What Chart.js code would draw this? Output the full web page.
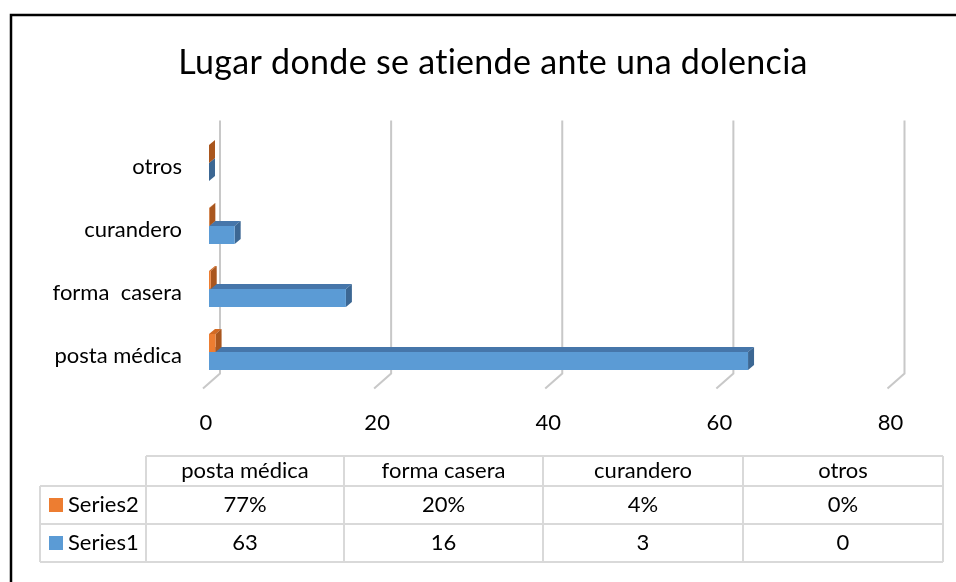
<!DOCTYPE html>
<html>
<head>
<meta charset="utf-8">
<script src="https://cdn.jsdelivr.net/npm/chart.js@4"></script>
<style>
  html, body { margin: 0; padding: 0; background: #ffffff; }
  #wrap { width: 956px; height: 582px; position: relative; }
</style>
</head>
<body>
<div id="wrap"><canvas id="c" width="956" height="582"></canvas></div>
<script>
// ---- data ----
const titleText = 'Lugar donde se atiende ante una dolencia';
const categories = ['posta médica', 'forma casera', 'curandero', 'otros'];
const yTickLabels = ['posta médica', 'forma  casera', 'curandero', 'otros'];
const series1 = [63, 16, 3, 0];
const series2 = [0.77, 0.20, 0.04, 0];
const series2Labels = ['77%', '20%', '4%', '0%'];
const series1Labels = ['63', '16', '3', '0'];
const seriesNames = ['Series2', 'Series1'];
const xTicks = [0, 20, 40, 60, 80];

// ---- styles ----
const FONT = 'Lato, "Noto Sans", sans-serif';
const C = {
  blue: '#5b9bd5', blueTop: '#4676aa', blueSide: '#3c6793',
  orange: '#ed7d31', orangeTop: '#d26a24', orangeSide: '#a9561e',
  grid: '#c8c8c8', table: '#d9d9d9', text: '#000000'
};

const frame = {
  id: 'frame',
  beforeDraw(chart) {
    const ctx = chart.ctx;
    ctx.save();
    ctx.fillStyle = '#ffffff';
    ctx.fillRect(0, 0, chart.width, chart.height);
    ctx.strokeStyle = '#000000';
    ctx.lineWidth = 2.5;
    ctx.strokeRect(11, 15, 2000, 2000);
    ctx.fillStyle = C.text;
    ctx.font = '34px ' + FONT;
    if ('letterSpacing' in ctx) ctx.letterSpacing = '0.3px';
    ctx.textAlign = 'center';
    ctx.textBaseline = 'middle';
    ctx.fillText(titleText, 493, 63);
    ctx.restore();
  }
};

const depth = {
  id: 'depth',
  beforeDatasetsDraw(chart) {
    const ctx = chart.ctx;
    const xs = chart.scales.x;
    const area = chart.chartArea;
    ctx.save();
    ctx.strokeStyle = C.grid;
    ctx.lineWidth = 2;
    xs.ticks.forEach(t => {
      const px = xs.getPixelForValue(t.value);
      ctx.beginPath();
      ctx.moveTo(px + 11, area.top - 11);
      ctx.lineTo(px + 11, area.bottom - 10);
      ctx.lineTo(px - 6, area.bottom + 5);
      ctx.stroke();
    });
    const dx = 6, dy = 5;
    const faces = [[C.orangeTop, C.orangeSide], [C.blueTop, C.blueSide]];
    for (let d = chart.data.datasets.length - 1; d >= 0; d--) {
      const meta = chart.getDatasetMeta(d);
      meta.data.forEach(el => {
        const p = el.getProps(['x', 'y', 'base', 'height'], true);
        const top = p.y - p.height / 2, bot = p.y + p.height / 2;
        const x0 = Math.min(p.base, p.x), x1 = Math.max(p.base, p.x);
        ctx.fillStyle = faces[d][0];
        ctx.beginPath();
        ctx.moveTo(x0, top); ctx.lineTo(x1, top);
        ctx.lineTo(x1 + dx, top - dy); ctx.lineTo(x0 + dx, top - dy);
        ctx.closePath(); ctx.fill();
        ctx.fillStyle = faces[d][1];
        ctx.beginPath();
        ctx.moveTo(x1, top); ctx.lineTo(x1 + dx, top - dy);
        ctx.lineTo(x1 + dx, bot - dy); ctx.lineTo(x1, bot);
        ctx.closePath(); ctx.fill();
      });
    }
    ctx.restore();
  }
};

const dataTable = {
  id: 'dataTable',
  afterDraw(chart) {
    const ctx = chart.ctx;
    const cols = [146, 344, 543, 743, 943];
    const rows = [456, 486, 524, 562];
    const legL = 40;
    ctx.save();
    ctx.strokeStyle = C.table;
    ctx.lineWidth = 2;
    ctx.beginPath();
    ctx.moveTo(cols[0], rows[0]); ctx.lineTo(cols[4], rows[0]);
    for (let r = 1; r < rows.length; r++) { ctx.moveTo(legL, rows[r]); ctx.lineTo(cols[4], rows[r]); }
    ctx.moveTo(legL, rows[1]); ctx.lineTo(legL, rows[3]);
    cols.forEach(x => { ctx.moveTo(x, rows[0]); ctx.lineTo(x, rows[3]); });
    ctx.stroke();

    ctx.fillStyle = C.text;
    ctx.font = '22px ' + FONT;
    ctx.textBaseline = 'middle';
    ctx.textAlign = 'center';
    const rowVals = [series2Labels, series1Labels];
    categories.forEach((cat, i) => {
      const cx = (cols[i] + cols[i + 1]) / 2;
      ctx.fillText(cat, cx, (rows[0] + rows[1]) / 2);
      rowVals.forEach((vals, r) => {
        ctx.fillText(vals[i], cx, (rows[r + 1] + rows[r + 2]) / 2);
      });
    });
    const sw = [C.orange, C.blue];
    seriesNames.forEach((name, r) => {
      const cy = (rows[r + 1] + rows[r + 2]) / 2;
      ctx.fillStyle = sw[r];
      ctx.fillRect(49, cy - 7, 14, 14);
      ctx.fillStyle = C.text;
      ctx.textAlign = 'left';
      ctx.fillText(name, 68, cy);
    });
    ctx.restore();
  }
};

new Chart(document.getElementById('c'), {
  type: 'bar',
  data: {
    labels: categories,
    datasets: [
      { label: seriesNames[0], data: series2, backgroundColor: C.orange },
      { label: seriesNames[1], data: series1, backgroundColor: C.blue }
    ]
  },
  options: {
    indexAxis: 'y',
    responsive: false,
    animation: false,
    devicePixelRatio: 1,
    categoryPercentage: 36 / 63,
    barPercentage: 1,
    layout: { padding: { top: 131.5, bottom: 150.5, left: 20, right: 62.5 } },
    plugins: { legend: { display: false }, title: { display: false }, tooltip: { enabled: false } },
    scales: {
      x: {
        type: 'linear', min: 0, max: 80,
        afterBuildTicks(s) { s.ticks = xTicks.map(v => ({ value: v })); },
        ticks: { padding: 26, labelOffset: -3, color: C.text, font: { family: FONT, size: 22 } },
        grid: { display: false, drawTicks: false },
        border: { display: false },
        afterFit(s) { s.height = 48; }
      },
      y: {
        reverse: true,
        ticks: {
          padding: 27, labelOffset: 4, color: C.text, font: { family: FONT, size: 22 },
          callback: (v, i) => yTickLabels[i]
        },
        grid: { display: false, drawTicks: false },
        border: { display: false },
        afterFit(s) { s.width = 189; }
      }
    }
  },
  plugins: [frame, depth, dataTable]
});
</script>
</body>
</html>
